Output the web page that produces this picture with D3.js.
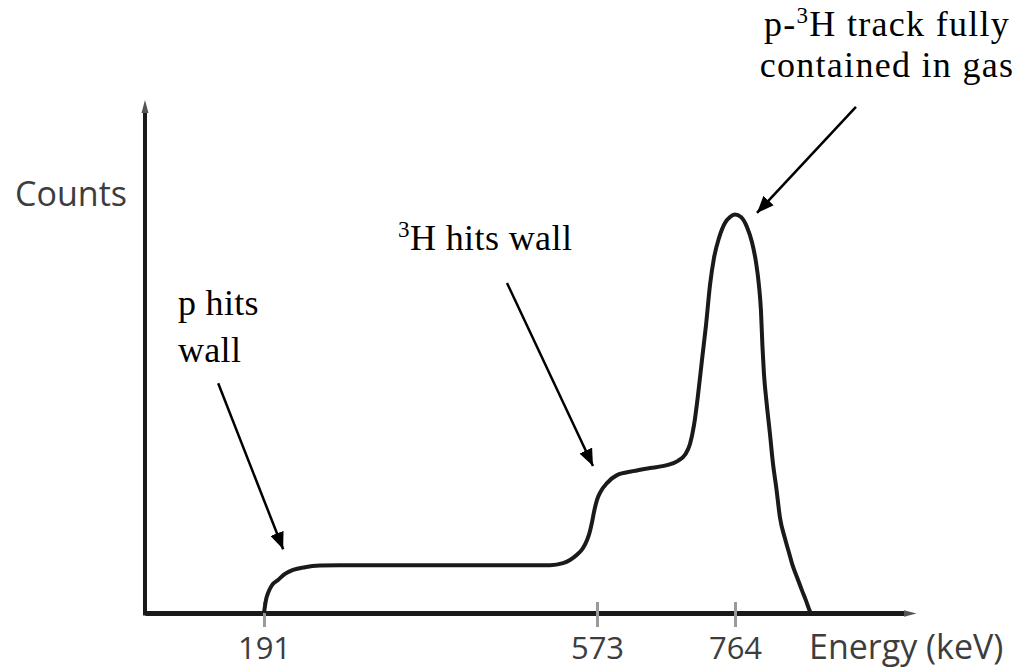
<!DOCTYPE html>
<html>
<head>
<meta charset="utf-8">
<script src="https://cdn.jsdelivr.net/npm/d3@7"></script>
<style>
  html, body { margin: 0; padding: 0; background: #fff; }
  svg { display: block; }
  .sans { font-family: "Open Sans", "DejaVu Sans", sans-serif; fill: #3d3d3d; }
  .serif { font-family: "Liberation Serif", "Times New Roman", serif; fill: #000; }
</style>
</head>
<body>
<svg id="chart" width="1019" height="670"></svg>
<script>
// Schematic energy spectrum: energy in keV, counts in arbitrary units (peak = 1)
const energy = [
  191, 193.3, 195.6, 200.2, 207.1, 215.1, 224.3, 238.0, 255.2, 278.2,
  519.1, 534.0, 542.0, 550.0, 557.0, 561.6, 565.0, 567.3, 569.6, 573.0,
  578.5, 586.8, 600.7, 622.8, 646.4, 669.9, 685.1, 694.8, 701.7, 707.3,
  712.8, 718.3, 723.9, 729.4, 734.9, 741.8, 750.1, 757.1, 764.0, 772.3,
  780.6, 787.5, 793.1, 797.2, 800.0, 802.1, 804.2, 807.9, 812.4, 816.6,
  821.7, 826.3, 833.2, 838.7, 844.2, 850.5, 856.7, 862.2, 867.8, 869.0
];
const counts = [
  0.000, 0.033, 0.050, 0.070, 0.083, 0.098, 0.108, 0.115, 0.119, 0.120,
  0.120, 0.125, 0.133, 0.146, 0.163, 0.183, 0.206, 0.228, 0.254, 0.284,
  0.306, 0.326, 0.346, 0.356, 0.364, 0.371, 0.382, 0.397, 0.424, 0.472,
  0.547, 0.635, 0.723, 0.823, 0.891, 0.941, 0.979, 0.994, 1.000, 0.994,
  0.969, 0.931, 0.881, 0.823, 0.760, 0.670, 0.600, 0.527, 0.452, 0.377,
  0.309, 0.241, 0.188, 0.153, 0.118, 0.088, 0.058, 0.033, 0.005, 0.000
];

// Axis ticks shown on the energy axis (keV)
const tickValues = [191, 573, 764];
const tickLabels = ["191", "573", "764"];

// Annotations: text lines, arrow tip on the curve (energy, counts)
const noteLines = [
  ["p hits", "wall"],
  ["³H hits wall"],
  ["p-³H track fully", "contained in gas"]
];
const noteTipEnergy = [213, 568.4, 794.5];
const noteTipCounts = [0.16, 0.369, 1.004];

const svg = d3.select("#chart");
const ink = "#1a1a1a";

// The energy axis is schematic, so the scale is piecewise between the marked energies
const x = d3.scaleLinear()
  .domain([0, 191, 573, 764, 1000])
  .range([145, 264, 597, 735, 905]);
const y = d3.scaleLinear().domain([0, 1.28]).range([613, 103]);

const defs = svg.append("defs");
defs.append("marker")
  .attr("id", "head")
  .attr("markerUnits", "userSpaceOnUse")
  .attr("markerWidth", 18).attr("markerHeight", 14)
  .attr("refX", 17).attr("refY", 7)
  .attr("orient", "auto")
  .append("path").attr("d", "M0,0 L17,7 L0,14 Z").attr("fill", "#000");
defs.append("marker")
  .attr("id", "axhead")
  .attr("markerUnits", "userSpaceOnUse")
  .attr("markerWidth", 14).attr("markerHeight", 10)
  .attr("refX", 2).attr("refY", 5)
  .attr("orient", "auto")
  .append("path").attr("d", "M0,1.5 L13,5 L0,8.5 Z").attr("fill", "#555");

// Energy axis
const xAxis = d3.axisBottom(x)
  .tickValues(tickValues)
  .tickFormat((d, i) => tickLabels[i])
  .tickSizeOuter(0);
const gx = svg.append("g").attr("transform", `translate(0,${y(0)})`).call(xAxis);
gx.select(".domain").attr("stroke", ink).attr("stroke-width", 5)
  .attr("marker-end", "url(#axhead)");
gx.selectAll(".tick line")
  .attr("y1", -11).attr("y2", 14)
  .attr("stroke", "#9a9a9a").attr("stroke-width", 3);
gx.selectAll(".tick text")
  .attr("class", "sans")
  .attr("y", 46).attr("dy", 0)
  .style("font-size", "31px")
  .attr("fill", "#3d3d3d");
gx.attr("font-family", null).attr("font-size", null);

// Counts axis
svg.append("line")
  .attr("x1", x(0)).attr("x2", x(0))
  .attr("y1", y(0) + 2.5).attr("y2", y(1.28) + 8)
  .attr("stroke", ink).attr("stroke-width", 4)
  .attr("marker-end", "url(#axhead)");

svg.append("text").attr("class", "sans")
  .attr("x", 127).attr("y", 206)
  .attr("text-anchor", "end")
  .style("font-size", "34px")
  .text("Counts");

svg.append("text").attr("class", "sans")
  .attr("x", 809).attr("y", 659)
  .style("font-size", "34px")
  .text("Energy (keV)");

// Spectrum curve
const line = d3.line()
  .x((d, i) => x(energy[i]))
  .y((d, i) => y(counts[i]))
  .curve(d3.curveMonotoneX);
svg.append("path")
  .datum(energy)
  .attr("d", line)
  .attr("fill", "none")
  .attr("stroke", ink)
  .attr("stroke-width", 4)
  .attr("stroke-linejoin", "round");

// Annotation arrows, tails offset from the tip
const tails = [[-65, -166], [-86, -183], [99, -106]];
noteTipEnergy.forEach((e, i) => {
  const tx = x(e), ty = y(noteTipCounts[i]);
  const sx = tx + tails[i][0], sy = ty + tails[i][1];
  svg.append("line")
    .attr("x1", sx).attr("y1", sy)
    .attr("x2", tx).attr("y2", ty)
    .attr("stroke", "#000").attr("stroke-width", 2.5)
    .attr("marker-end", "url(#head)");
});

// Annotation text
const notePos = [
  { x: 178, y: 315, anchor: "start", lh: 47, ls: 0.3 },
  { x: 398, y: 250, anchor: "start", lh: 42, ls: 0.4 },
  { x: 887, y: 36, anchor: "middle", lh: 41, ls: 1.3 }
];
noteLines.forEach((lines, i) => {
  const p = notePos[i];
  const t = svg.append("text").attr("class", "serif")
    .attr("text-anchor", p.anchor)
    .style("letter-spacing", p.ls + "px")
    .style("font-size", "36px");
  lines.forEach((s, j) => {
    const ts = t.append("tspan").attr("x", p.x).attr("y", p.y + j * p.lh);
    // superscript mass number in ³H
    const parts = s.split("³");
    parts.forEach((part, k) => {
      if (k > 0) {
        ts.append("tspan").attr("dy", -13).style("font-size", "23px").text("3");
        ts.append("tspan").attr("dy", 13).text(part);
      } else if (part.length) {
        ts.append("tspan").text(part);
      }
    });
  });
});
</script>
</body>
</html>
